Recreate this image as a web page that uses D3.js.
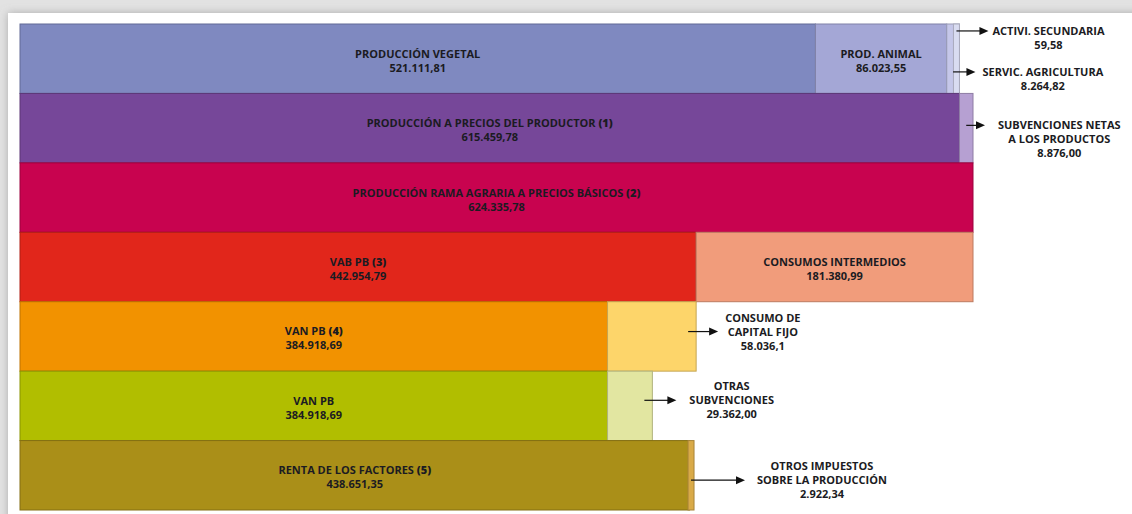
<!DOCTYPE html>
<html>
<head>
<meta charset="utf-8">
<script src="https://cdn.jsdelivr.net/npm/d3@7"></script>
<style>
  body { margin: 0; background: #fff; }
  svg { display: block; font-family: "Open Sans", sans-serif; }
</style>
</head>
<body>
<svg id="chart" width="1132" height="514"></svg>
<script>
// Nombres de cada segmento, fila a fila (| = salto de línea en las llamadas)
const segNames = [
  ['PRODUCCIÓN VEGETAL', 'PROD. ANIMAL', 'SERVIC. AGRICULTURA', 'ACTIVI. SECUNDARIA'],
  ['PRODUCCIÓN A PRECIOS DEL PRODUCTOR (1)', 'SUBVENCIONES NETAS|A LOS PRODUCTOS'],
  ['PRODUCCIÓN RAMA AGRARIA A PRECIOS BÁSICOS (2)'],
  ['VAB PB (3)', 'CONSUMOS INTERMEDIOS'],
  ['VAN PB (4)', 'CONSUMO DE|CAPITAL FIJO'],
  ['VAN PB', 'OTRAS|SUBVENCIONES'],
  ['RENTA DE LOS FACTORES (5)', 'OTROS IMPUESTOS|SOBRE LA PRODUCCIÓN']
];

// Valores tal como aparecen impresos
const segValueText = [
  ['521.111,81', '86.023,55', '8.264,82', '59,58'],
  ['615.459,78', '8.876,00'],
  ['624.335,78'],
  ['442.954,79', '181.380,99'],
  ['384.918,69', '58.036,1'],
  ['384.918,69', '29.362,00'],
  ['438.651,35', '2.922,34']
];

// Pasar "1.234,56" a número
const segValues = segValueText.map(r => r.map(s => +s.replace(/\./g, '').replace(',', '.')));

// Colores de cada segmento
const segColors = [
  ['#7f89c0', '#a4a7d6', '#c5c7e9', '#d9dcf1'],
  ['#764799', '#b6a0d2'],
  ['#c8034f'],
  ['#e1261b', '#f19c7b'],
  ['#f29200', '#fdd56a'],
  ['#b1be00', '#e2e6a1'],
  ['#aa8f18', '#d9aa48']
];

// Segmentos que se rotulan fuera con flecha
const callouts = [
  { row: 0, seg: 3, at: 0.10, line: 0, tipOff: 29, gap: 4 },
  { row: 0, seg: 2, at: 0.69, line: 0, tipOff: 16, gap: 7 },
  { row: 1, seg: 1, at: 0.46, line: 0, tipOff: 12, gap: 13 },
  { row: 4, seg: 1, at: 0.43, line: 1, tipOff: 22, gap: 7 },
  { row: 5, seg: 1, at: 0.42, line: 1, tipOff: 24, gap: 13 },
  { row: 6, seg: 1, at: 0.57, line: 1, tipOff: 51, gap: 12 }
];

const W = 1132, H = 514;
const minW = 6;       // anchura mínima visible
const lineH = 14;

const svg = d3.select('#chart');

// Fondo y tarjeta con sombra
const defs = svg.append('defs');
const f = defs.append('filter').attr('id', 'sombra')
  .attr('x', '-5%').attr('y', '-5%').attr('width', '110%').attr('height', '110%');
f.append('feDropShadow').attr('dx', 0).attr('dy', 0).attr('stdDeviation', 4)
  .attr('flood-color', '#888').attr('flood-opacity', 0.6);

svg.append('rect').attr('width', W).attr('height', H).attr('fill', '#e2e2e2');
svg.append('rect').attr('x', 8).attr('y', 13).attr('width', W + 20).attr('height', H + 20)
  .attr('fill', '#fff').attr('filter', 'url(#sombra)');

const rowTotals = segValues.map(r => d3.sum(r));

const x = d3.scaleLinear().domain([0, d3.max(rowTotals)]).range([20, 973]);
const y = d3.scaleBand().domain(d3.range(segValues.length)).range([24, 510]);

// Calcular rectángulos
const segs = [];
segValues.forEach((vals, ri) => {
  let acc = 0;
  vals.forEach((v, si) => {
    let x0 = x(acc), x1 = x(acc + v);
    if (x1 - x0 < minW) x0 = x1 - minW;
    segs.push({ row: ri, seg: si, x0, x1, v, name: segNames[ri][si],
      text: segValueText[ri][si], color: segColors[ri][si] });
    acc += v;
  });
});

const isCallout = d => callouts.some(c => c.row === d.row && c.seg === d.seg);

svg.append('g').selectAll('rect')
  .data(segs)
  .join('rect')
  .attr('x', d => d.x0)
  .attr('y', d => y(d.row))
  .attr('width', d => d.x1 - d.x0)
  .attr('height', y.bandwidth())
  .attr('fill', d => d.color)
  .attr('stroke', d => d3.color(d.color).darker(0.7))
  .attr('stroke-width', 1);

// Escribe una línea con los "(n)" en negrita
function addLine(text, str, dy) {
  const t = text.append('tspan').attr('x', text.attr('x')).attr('dy', dy);
  str.split(/(\(\d\))/).forEach(part => {
    if (!part) return;
    t.append('tspan').text(part).attr('font-weight', /^\(\d\)$/.test(part) ? 800 : 700);
  });
}

// Rótulos dentro de las barras
const inner = svg.append('g').attr('font-size', 11).attr('fill', '#1b1b22')
  .attr('text-anchor', 'middle');
segs.filter(d => !isCallout(d)).forEach(d => {
  const cy = y(d.row) + y.bandwidth() / 2;
  const t = inner.append('text').attr('x', (d.x0 + d.x1) / 2).attr('y', cy - 1);
  addLine(t, d.name.replace('|', ' '), 0);
  addLine(t, d.text, lineH);
});

// Llamadas con flecha
const outer = svg.append('g').attr('font-size', 11).attr('fill', '#1b1b22');
callouts.forEach(c => {
  const d = segs.find(s => s.row === c.row && s.seg === c.seg);
  const ay = y(c.row) + y.bandwidth() * c.at;
  const rowEnd = x(rowTotals[c.row]);
  const sx = d.x1 - Math.min(8, (d.x1 - d.x0) / 2);
  const tip = rowEnd + c.tipOff;

  outer.append('line')
    .attr('x1', sx).attr('x2', tip - 6)
    .attr('y1', ay).attr('y2', ay)
    .attr('stroke', '#111').attr('stroke-width', 1.2);
  outer.append('path')
    .attr('d', `M${tip},${ay}L${tip - 9},${ay - 4}L${tip - 9},${ay + 4}Z`)
    .attr('fill', '#111');

  const lines = d.name.split('|').concat([d.text]);
  const tx = tip + c.gap;
  const t = outer.append('text').attr('x', tx).attr('y', ay + 4 - c.line * lineH);
  lines.forEach((s, i) => addLine(t, s, i ? lineH : 0));

  // centrar las líneas sobre la más larga
  const widths = t.selectAll(':scope > tspan').nodes().map(n => n.getComputedTextLength());
  const cx = tx + d3.max(widths) / 2;
  t.attr('text-anchor', 'middle').attr('x', cx);
  t.selectAll(':scope > tspan').attr('x', cx);
});
</script>
</body>
</html>
